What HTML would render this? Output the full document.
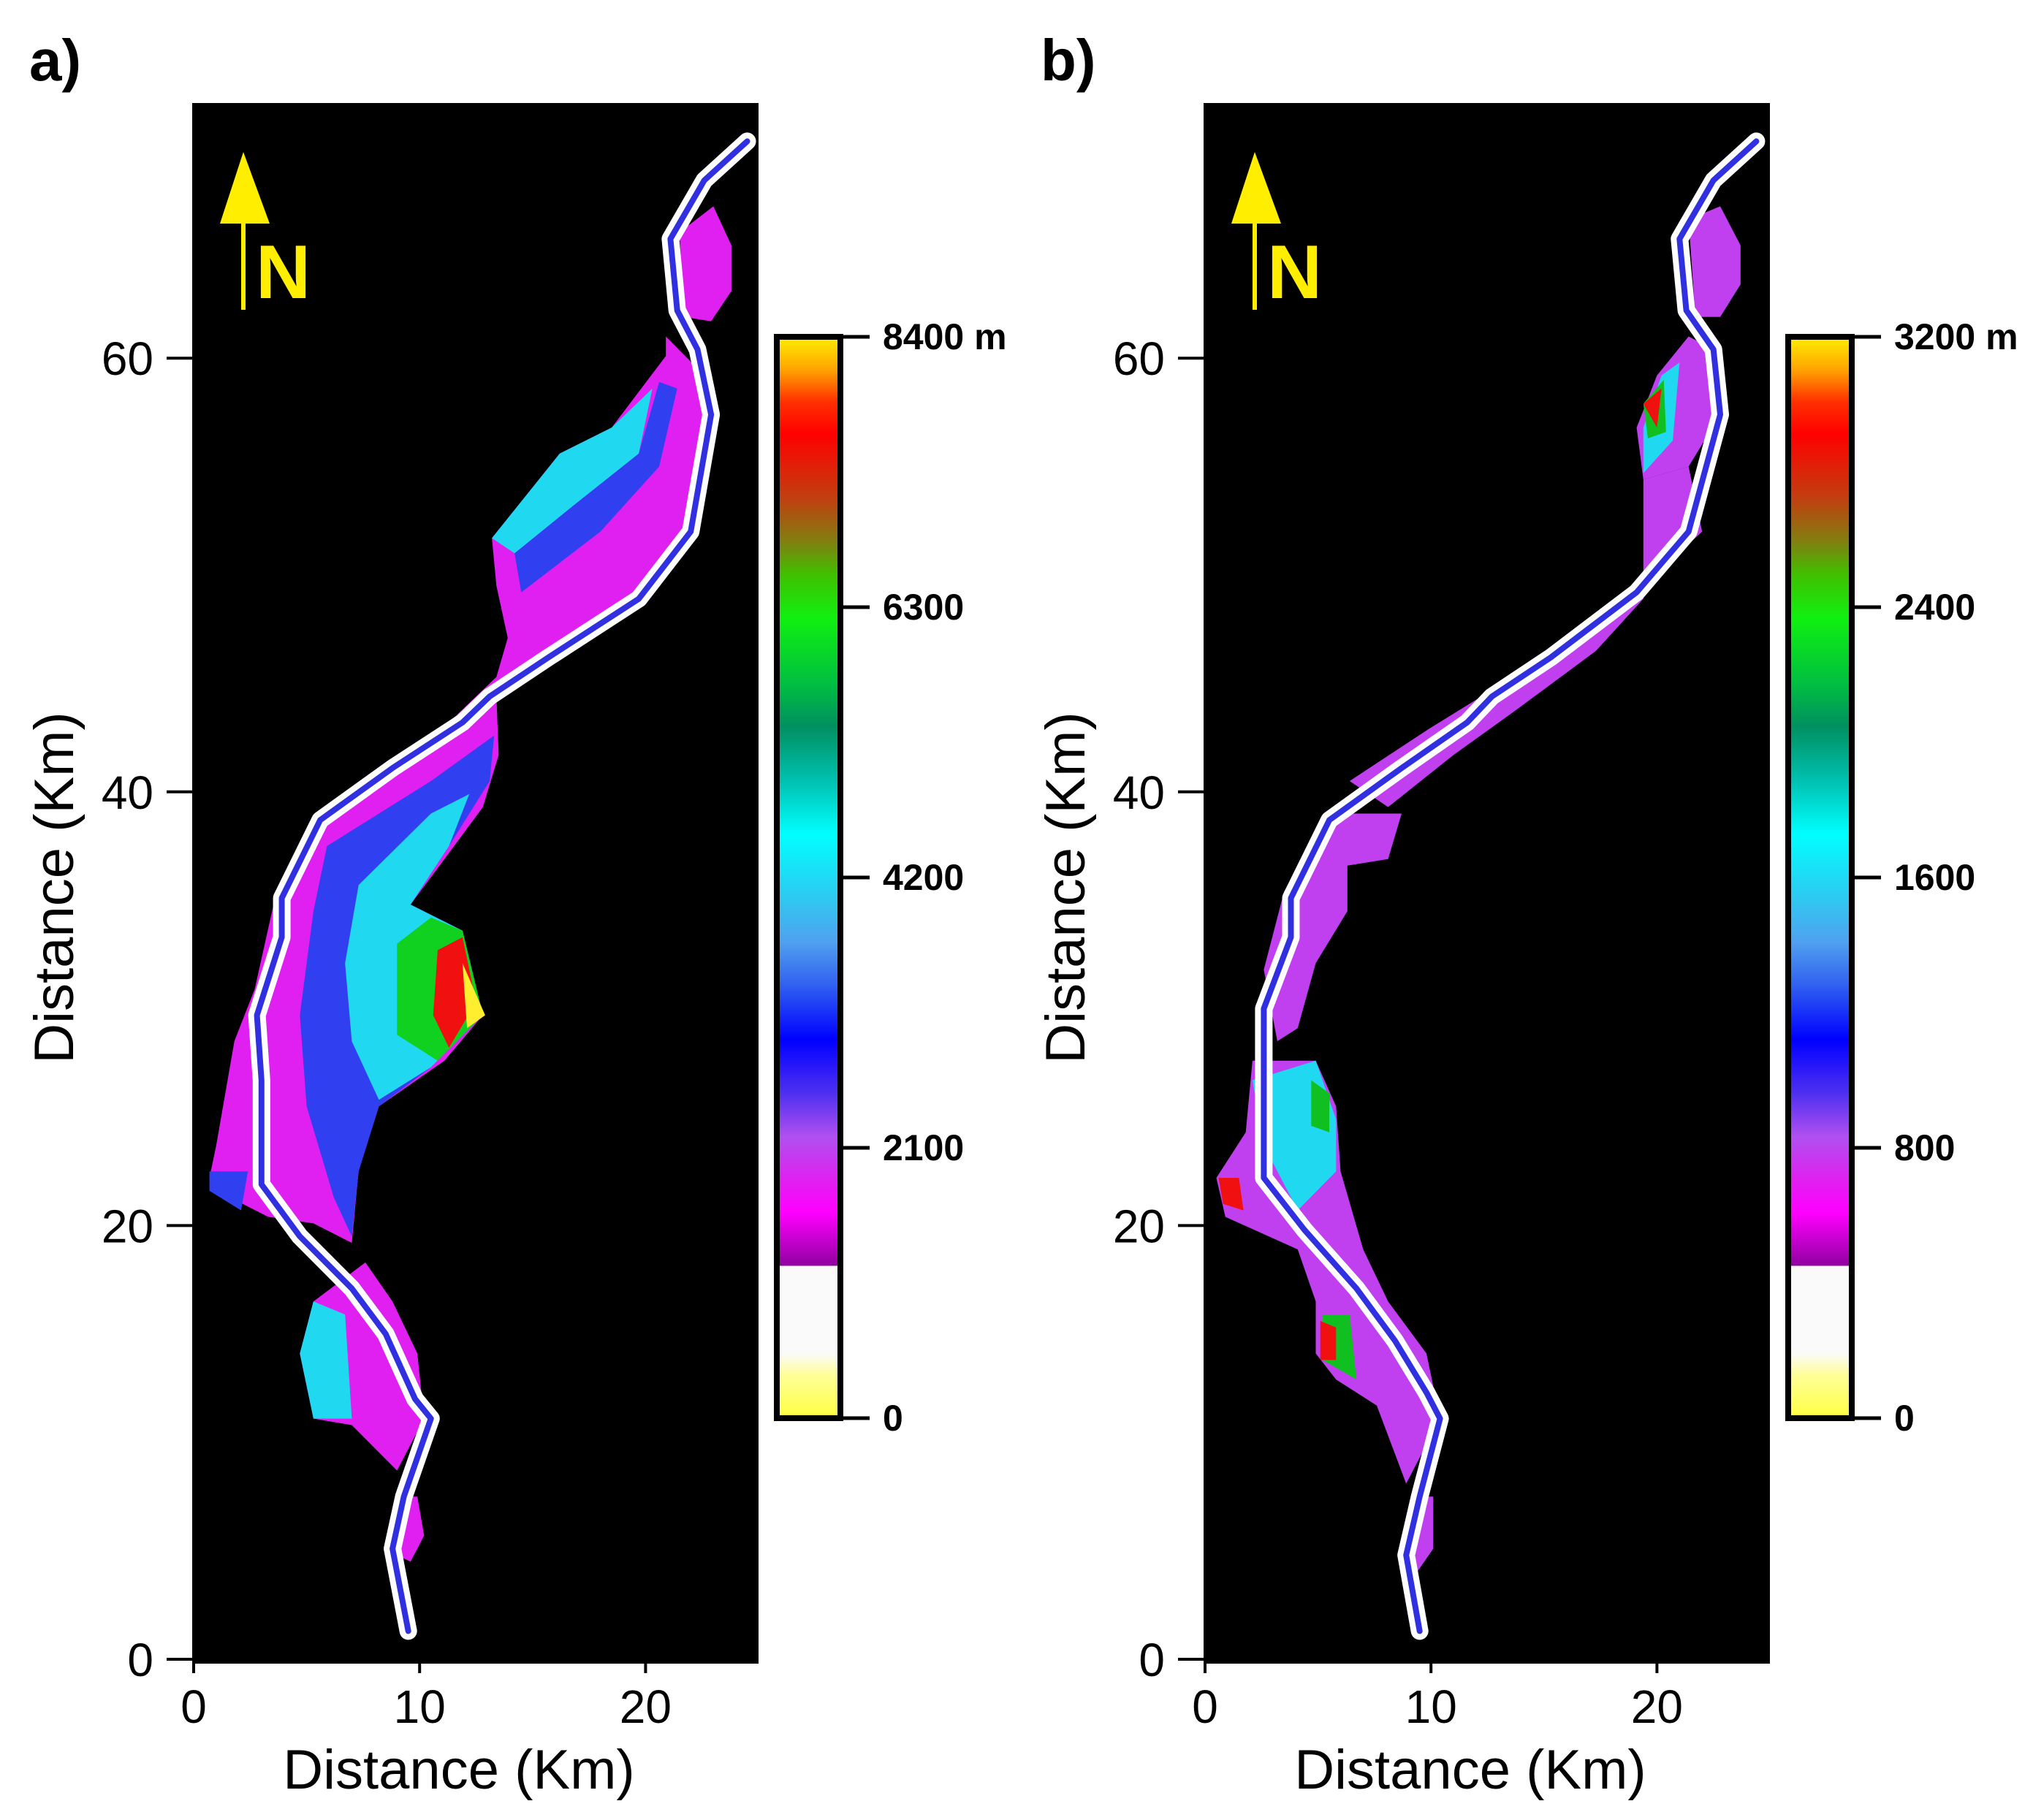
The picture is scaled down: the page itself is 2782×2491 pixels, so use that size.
<!DOCTYPE html>
<html><head><meta charset="utf-8"><style>
body{margin:0;background:#fff}
svg{display:block;font-family:"Liberation Sans",sans-serif}
</style></head><body>
<svg id="fig" width="2782" height="2491" viewBox="0 0 2782 2491" xmlns="http://www.w3.org/2000/svg"></svg>
<script>
// ---- data (km) ----
const riverA=[[9.5,1.3],[8.8,5.1],[9.3,7.5],[10.5,11.1],[9.8,12.0],[8.5,15.0],[7.0,17.1],[4.7,19.5],[3.0,21.9],[3.0,26.7],[2.8,29.7],[3.9,33.3],[3.9,35.1],[5.6,38.7],[8.8,41.1],[11.9,43.2],[13.1,44.4],[15.7,46.2],[19.7,48.9],[22.0,52.0],[22.9,57.4],[22.3,60.4],[21.4,62.2],[21.1,65.5],[22.6,68.2],[24.5,70.0]];
const riverB=[[9.5,1.3],[8.9,4.8],[9.5,7.5],[10.4,11.1],[9.8,12.3],[8.4,14.7],[6.7,17.1],[4.4,19.8],[2.6,22.2],[2.6,26.7],[2.6,30.0],[3.8,33.3],[3.8,35.1],[5.5,38.7],[8.7,41.1],[11.6,43.2],[12.7,44.4],[15.3,46.2],[19.1,49.2],[21.4,52.0],[22.8,57.4],[22.5,60.4],[21.3,62.2],[21.0,65.5],[22.5,68.2],[24.4,70.0]];
const zonesA=[
 {c:"#e020f0",p:[[21.5,65.8],[23.0,67.0],[23.8,65.2],[23.8,63.1],[22.9,61.7],[21.7,61.9]]},
 {c:"#e020f0",p:[[20.9,61.0],[22.6,59.2],[23.0,57.4],[22.0,52.0],[19.7,48.9],[15.7,46.2],[13.4,44.4],[13.5,41.7],[12.8,39.3],[11.1,36.9],[9.6,34.8],[11.9,33.6],[12.8,29.7],[11.1,27.6],[8.2,25.5],[7.3,22.5],[7.0,19.2],[5.3,20.1],[3.3,20.4],[1.6,21.3],[0.7,22.2],[1.0,23.7],[1.8,28.5],[2.7,30.9],[3.6,35.1],[5.3,38.7],[8.8,41.1],[11.6,43.5],[13.4,45.3],[13.9,47.1],[13.4,49.5],[13.2,51.7],[16.2,55.6],[18.5,56.8],[20.9,60.1]]},
 {c:"#e020f0",p:[[5.3,16.5],[7.6,18.3],[8.8,16.5],[9.9,14.1],[10.2,11.1],[9.0,8.7],[7.0,10.8],[5.3,11.1],[4.7,14.1]]},
 {c:"#e020f0",p:[[9.0,7.5],[9.9,7.5],[10.2,5.7],[9.6,4.5],[9.0,4.8]]},
 {c:"#3040f0",p:[[14.2,51.0],[16.8,53.2],[19.7,55.6],[20.6,58.9],[21.4,58.6],[20.6,55.0],[18.0,52.0],[14.5,49.2]]},
 {c:"#20d8f0",p:[[13.2,51.7],[16.2,55.6],[18.5,56.8],[20.3,58.6],[19.7,55.6],[16.8,53.2],[14.2,51.0]]},
 {c:"#3040f0",p:[[5.9,37.5],[10.5,40.5],[13.3,42.6],[13.1,40.5],[11.3,37.5],[9.6,34.8],[11.9,33.6],[12.8,29.7],[10.5,27.3],[8.2,25.5],[7.3,22.5],[7.0,19.5],[6.2,21.3],[5.0,25.5],[4.7,29.7],[5.3,34.5]]},
 {c:"#20d8f0",p:[[7.3,35.7],[10.5,39.0],[12.2,39.9],[11.3,37.5],[9.6,34.8],[11.9,33.6],[12.8,29.7],[10.5,27.3],[8.2,25.8],[7.0,28.5],[6.7,32.1]]},
 {c:"#10d020",p:[[9.0,33.0],[10.5,34.2],[11.9,33.6],[12.8,29.7],[10.8,27.6],[9.0,28.8]]},
 {c:"#f01010",p:[[10.8,32.7],[11.9,33.3],[12.5,30.3],[11.3,28.2],[10.6,29.7]]},
 {c:"#ffee30",p:[[11.9,32.1],[12.9,29.7],[12.1,29.1]]},
 {c:"#20d8f0",p:[[5.3,16.5],[6.7,15.9],[7.0,11.1],[5.3,11.1],[4.7,14.1]]},
 {c:"#3040f0",p:[[0.7,22.5],[2.4,22.5],[2.1,20.7],[0.7,21.6]]}
];
const zonesB=[
 {c:"#c040f0",p:[[21.4,66.4],[22.8,67.0],[23.7,65.2],[23.7,63.4],[22.8,61.9],[21.7,61.9]]},
 {c:"#c040f0",p:[[21.4,61.0],[22.5,60.4],[22.8,57.4],[21.4,55.0],[19.4,54.4],[19.1,56.8],[20.0,59.2]]},
 {c:"#c040f0",p:[[19.4,54.4],[21.4,55.0],[22.0,52.0],[19.1,49.2],[15.3,46.2],[12.7,44.7],[9.9,42.9],[6.4,40.5],[8.1,39.3],[11.0,41.7],[13.8,43.8],[17.3,46.5],[19.4,48.9]]},
 {c:"#c040f0",p:[[5.5,39.0],[8.7,39.0],[8.1,36.9],[6.3,36.6],[6.3,34.5],[4.9,32.1],[4.1,29.1],[3.2,28.5],[2.6,31.8],[3.5,35.4]]},
 {c:"#c040f0",p:[[2.1,27.6],[4.9,27.6],[5.8,25.5],[6.0,22.5],[7.0,18.9],[8.1,16.5],[9.8,14.1],[10.4,11.1],[8.9,8.1],[7.6,11.7],[5.8,12.9],[4.9,14.1],[4.9,16.5],[4.1,18.9],[0.9,20.4],[0.5,22.2],[1.8,24.3]]},
 {c:"#c040f0",p:[[9.3,7.5],[10.1,7.5],[10.1,5.1],[9.3,3.9]]},
 {c:"#20d8f0",p:[[19.4,56.8],[20.2,59.2],[21.0,59.8],[20.7,56.2],[19.4,54.7]]},
 {c:"#10c020",p:[[19.4,57.9],[20.3,59.0],[20.4,56.6],[19.6,56.3]]},
 {c:"#f01010",p:[[19.4,57.9],[20.2,58.6],[20.0,56.8]]},
 {c:"#20d8f0",p:[[2.1,26.7],[4.9,27.6],[5.8,24.9],[5.8,22.5],[4.1,20.7],[2.6,23.7]]},
 {c:"#10c020",p:[[4.7,26.7],[5.5,26.1],[5.5,24.3],[4.7,24.6]]},
 {c:"#f01010",p:[[0.6,22.2],[1.5,22.2],[1.7,20.7],[0.8,21.0]]},
 {c:"#10c020",p:[[5.2,15.9],[6.4,15.9],[6.7,12.9],[5.2,13.8]]},
 {c:"#f01010",p:[[5.1,15.6],[5.8,15.3],[5.8,13.8],[5.1,13.8]]}
];
const xTicks=[0,10,20];
const yTicks=[0,20,40,60];
const cbTicksA=[0,2100,4200,6300,8400];
const cbTicksB=[0,800,1600,2400,3200];
const cbMaxA=8400, cbMaxB=3200;

const NS="http://www.w3.org/2000/svg";
const svg=document.getElementById('fig');
function el(tag,attrs,parent,text){const e=document.createElementNS(NS,tag);for(const k in attrs)e.setAttribute(k,attrs[k]);if(text!==undefined)e.textContent=text;(parent||svg).appendChild(e);return e;}

const defs=el('defs',{});
const grad=el('linearGradient',{id:'cbg',x1:0,y1:0,x2:0,y2:1},defs);
const stops=[[0,'#ffee00'],[0.03,'#ffa500'],[0.06,'#ff3000'],[0.09,'#ff0000'],[0.15,'#c04010'],[0.19,'#808010'],[0.22,'#40c000'],[0.26,'#10f010'],[0.32,'#00c040'],[0.36,'#009060'],[0.41,'#00c0b0'],[0.46,'#00ffff'],[0.52,'#30c8f0'],[0.56,'#50a0f0'],[0.6,'#3060f0'],[0.65,'#0000ff'],[0.7,'#5030f0'],[0.74,'#b050f0'],[0.78,'#e020f0'],[0.81,'#ff00ff'],[0.859,'#9000a0'],[0.859,'#fafafa'],[0.94,'#fafafa'],[0.96,'#ffff99'],[1,'#ffff40']];
stops.forEach(s=>el('stop',{offset:s[0],'stop-color':s[1]},grad));

function panel(off,river,zones,cbTicks,cbMax,label,name){
  const g=el('g',{});
  
  
  const X=v=>265+off+v*30.92;
  const Y=v=>2271-v*29.68;
  const pts=a=>a.map(p=>X(p[0]).toFixed(1)+','+Y(p[1]).toFixed(1)).join(' ');
  const bg=el('rect',{x:265+off,y:141,width:773,height:2134,fill:'#000'},g);
  
  
  zones.forEach(z=>{const p=el('polygon',{points:pts(z.p),fill:z.c},g);
    
    });
  const rw=el('polyline',{points:pts(river),fill:'none',stroke:'#fff','stroke-width':24,'stroke-linejoin':'round','stroke-linecap':'round'},g);
  
  
  const rb=el('polyline',{points:pts(river),fill:'none',stroke:'#3030e0','stroke-width':8,'stroke-linejoin':'round','stroke-linecap':'round'},g);
  
  
  el('line',{x1:265+off,y1:141,x2:265+off,y2:2277,stroke:'#000','stroke-width':4},g);
  el('line',{x1:263+off,y1:2275,x2:1038+off,y2:2275,stroke:'#000','stroke-width':4},g);
  yTicks.forEach(t=>{el('line',{x1:228+off,y1:Y(t),x2:265+off,y2:Y(t),stroke:'#000','stroke-width':4},g);
    const tl=el('text',{x:210+off,y:Y(t)+23,'font-size':64,'text-anchor':'end'},g,String(t));
    
    });
  xTicks.forEach(t=>{el('line',{x1:X(t),y1:2275,x2:X(t),y2:2290,stroke:'#000','stroke-width':4},g);
    const tl=el('text',{x:X(t),y:2358,'font-size':64,'text-anchor':'middle'},g,String(t));
    
    });
  const xt=el('text',{x:628+off,y:2448,'font-size':76,'text-anchor':'middle'},g,'Distance (Km)');
  
  
  const yt=el('text',{x:0,y:0,'font-size':76,'text-anchor':'middle',transform:`translate(${100+off},1215) rotate(-90)`},g,'Distance (Km)');
  
  
  const pl=el('text',{x:40+off,y:110,'font-size':80,'font-weight':'bold'},g,label);
  
  
  const na=el('g',{},g);
  
  
  el('polygon',{points:`${333+off},208 ${301+off},306 ${369+off},306`,fill:'#ffee00'},na);
  el('rect',{x:330+off,y:300,width:6,height:124,fill:'#ffee00'},na);
  el('text',{x:350+off,y:408,'font-size':104,'font-weight':'bold',fill:'#ffee00'},na,'N');
  const CY=v=>1941-v*(1941-461)/cbMax;
  const cb=el('g',{},g);
  
  
  el('rect',{x:1063+off,y:461,width:87,height:1480,fill:'url(#cbg)',stroke:'#000','stroke-width':8},cb);
  cbTicks.forEach((t,i)=>{el('line',{x1:1150+off,y1:CY(t),x2:1190+off,y2:CY(t),stroke:'#000','stroke-width':5},cb);
    const tl=el('text',{x:1208+off,y:CY(t)+17,'font-size':50,'font-weight':'bold'},cb,String(t)+(i===cbTicks.length-1?' m':''));
    
    });
}
panel(0,riverA,zonesA,cbTicksA,cbMaxA,'a)','panel-a');
panel(1384,riverB,zonesB,cbTicksB,cbMaxB,'b)','panel-b');
</script>
</body></html>
